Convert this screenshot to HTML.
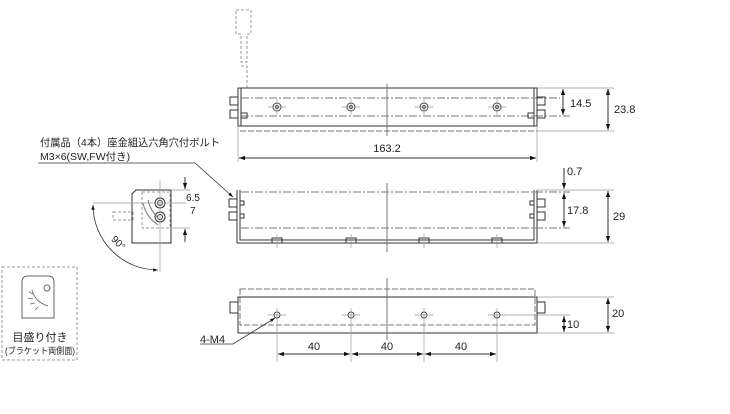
<!DOCTYPE html>
<html><head><meta charset="utf-8"><style>
body{margin:0;background:#fff}
svg{display:block}
text{font-family:"Liberation Sans","Noto Sans CJK JP",sans-serif;fill:#222}
</style></head><body>
<svg width="730" height="414" viewBox="0 0 730 414">
<defs>
<marker id="a" viewBox="0 0 10 10" refX="10" refY="5" markerWidth="8" markerHeight="6" orient="auto-start-reverse"><path d="M0,1.5L10,5L0,8.5z" fill="#111"/></marker>
</defs>
<g fill="none" stroke="#333" stroke-width="1">
<g stroke="#999" stroke-dasharray="3,2">
<path d="M236,10h15v24h-4v28h-6v-28h-5z"/>
<path d="M241,66h6v22"/>
</g>
<rect x="238" y="88" width="299" height="38"/>
<line x1="241" y1="88" x2="241" y2="126"/><line x1="534" y1="88" x2="534" y2="126"/>
<g stroke="#777" stroke-dasharray="8,2,2,2"><line x1="241" y1="98" x2="560" y2="98"/><line x1="241" y1="116" x2="570" y2="116"/></g>
<line x1="240" y1="131" x2="537" y2="131" stroke="#777" stroke-dasharray="6,2"/>
<line x1="387" y1="84" x2="387" y2="136" stroke="#777"/>
<g stroke="#444"><circle cx="277" cy="107" r="4"/><circle cx="351" cy="107" r="4"/><circle cx="424" cy="107" r="4"/><circle cx="497" cy="107" r="4"/>
<circle cx="277" cy="107" r="1.5"/><circle cx="351" cy="107" r="1.5"/><circle cx="424" cy="107" r="1.5"/><circle cx="497" cy="107" r="1.5"/></g>
<g stroke="#999" stroke-width=".7"><path d="M268,107h18M277,99v16M342,107h18M351,99v16M415,107h18M424,99v16M488,107h18M497,99v16"/></g>
<rect x="230" y="97" width="8" height="8"/><rect x="230" y="110" width="8" height="8"/>
<rect x="537" y="97" width="8" height="8"/><rect x="537" y="110" width="8" height="8"/>
<rect x="241" y="113" width="6" height="5"/><rect x="528" y="113" width="6" height="5"/>
<g stroke="#999" stroke-width=".7"><line x1="537" y1="88" x2="614" y2="88"/><line x1="537" y1="131" x2="614" y2="131"/><line x1="238" y1="126" x2="238" y2="162"/><line x1="537" y1="126" x2="537" y2="162"/></g>
<line x1="563" y1="89" x2="563" y2="115" marker-start="url(#a)" marker-end="url(#a)"/>
<line x1="608" y1="89" x2="608" y2="130" marker-start="url(#a)" marker-end="url(#a)"/>
<line x1="239" y1="158" x2="536" y2="158" marker-start="url(#a)" marker-end="url(#a)"/>
<path d="M237,190V243H537V190M240,190V240H534V190"/>
<g stroke="#777" stroke-dasharray="8,2,2,2"><line x1="241" y1="192" x2="570" y2="192"/><line x1="241" y1="228" x2="570" y2="228"/></g>
<line x1="387" y1="183" x2="387" y2="252" stroke="#777"/>
<rect x="229" y="199" width="8" height="8"/><rect x="229" y="212" width="8" height="8"/>
<rect x="240" y="201" width="4" height="4"/><rect x="240" y="214" width="4" height="4"/>
<rect x="537" y="199" width="8" height="8"/><rect x="537" y="212" width="8" height="8"/>
<rect x="530" y="201" width="4" height="4"/><rect x="530" y="214" width="4" height="4"/>
<rect x="272" y="238" width="10" height="5"/><rect x="346" y="238" width="10" height="5"/><rect x="419" y="238" width="10" height="5"/><rect x="492" y="238" width="10" height="5"/>
<g stroke="#999" stroke-width=".7"><path d="M277,234v14M351,234v14M424,234v14M497,234v14"/><line x1="537" y1="190" x2="614" y2="190"/><line x1="537" y1="243" x2="614" y2="243"/></g>
<line x1="564" y1="168" x2="564" y2="189" marker-end="url(#a)"/>
<line x1="564" y1="193" x2="564" y2="227" marker-start="url(#a)" marker-end="url(#a)"/>
<line x1="608" y1="191" x2="608" y2="242" marker-start="url(#a)" marker-end="url(#a)"/>
<rect x="240" y="289" width="295" height="36" stroke="#777" stroke-dasharray="6,2"/>
<rect x="238" y="297" width="299" height="36"/>
<line x1="387" y1="278" x2="387" y2="340" stroke="#777"/>
<rect x="230" y="302" width="8" height="11"/><rect x="537" y="302" width="8" height="11"/>
<g stroke="#444"><circle cx="277" cy="315" r="3"/><circle cx="351" cy="315" r="3"/><circle cx="424" cy="315" r="3"/><circle cx="497" cy="315" r="3"/></g>
<g stroke="#999" stroke-width=".7"><path d="M268,315h18M277,308v54M342,315h18M351,308v54M415,315h18M424,308v54M488,315h18M497,308v54"/>
<line x1="500" y1="315" x2="570" y2="315"/><line x1="537" y1="297" x2="614" y2="297"/><line x1="537" y1="333" x2="614" y2="333"/></g>
<line x1="564" y1="316" x2="564" y2="332" marker-start="url(#a)" marker-end="url(#a)"/>
<line x1="608" y1="298" x2="608" y2="332" marker-start="url(#a)" marker-end="url(#a)"/>
<line x1="278" y1="354" x2="350" y2="354" marker-start="url(#a)" marker-end="url(#a)"/>
<line x1="352" y1="354" x2="423" y2="354" marker-start="url(#a)" marker-end="url(#a)"/>
<line x1="425" y1="354" x2="496" y2="354" marker-start="url(#a)" marker-end="url(#a)"/>
<path d="M200,344H233L275,318" stroke-width=".8" marker-end="url(#a)"/>
<path d="M38,163H195L233,197" stroke-width=".8" marker-end="url(#a)"/>
<path d="M136,190H171V243H132V194z"/>
<rect x="142" y="192" width="28" height="36" stroke="#999" stroke-dasharray="3,2"/>
<rect x="113" y="212" width="20" height="8" stroke="#999" stroke-dasharray="3,2"/>
<circle cx="160" cy="203" r="5"/><circle cx="160" cy="203" r="2.5"/>
<circle cx="160" cy="217" r="5"/><circle cx="160" cy="217" r="2.5"/>
<path d="M148,200q2,10,10,18" stroke="#777"/><path d="M143,203q3,14,15,22" stroke="#777"/>
<g stroke="#999" stroke-width=".7"><line x1="93" y1="203" x2="186" y2="203"/><line x1="160" y1="180" x2="160" y2="272"/><line x1="171" y1="190" x2="190" y2="190"/><line x1="171" y1="228" x2="190" y2="228"/></g>
<line x1="185" y1="177" x2="185" y2="189" marker-end="url(#a)"/>
<line x1="185" y1="242" x2="185" y2="229" marker-end="url(#a)"/>
<path d="M93,205A65,65 0 0 0 158,270" stroke-width=".8" marker-start="url(#a)" marker-end="url(#a)"/>
<rect x="2" y="267" width="75" height="93" stroke="#999" stroke-dasharray="3,2"/>
<path d="M22,282q0,-6,6,-6h20q6,0,6,6v36h-32z" stroke="#666"/>
<circle cx="47" cy="288" r="3" stroke="#666"/>
<path d="M32,290q3,12,16,16M29,292l4,2M28,298l5,1M30,304l5,-1M35,310l3,-3" stroke="#666" stroke-width=".8"/>
</g>
<g font-size="11">
<text x="570" y="107">14.5</text><text x="614" y="113">23.8</text>
<text x="387" y="152" text-anchor="middle">163.2</text>
<text x="567" y="175">0.7</text><text x="567" y="214">17.8</text><text x="613" y="220">29</text>
<text x="567" y="328">10</text><text x="612" y="317">20</text>
<text x="314" y="350" text-anchor="middle">40</text><text x="387" y="350" text-anchor="middle">40</text><text x="461" y="350" text-anchor="middle">40</text>
<text x="200" y="343">4-M4</text>
<text x="186" y="201" font-size="10">6.5</text><text x="190" y="214" font-size="10">7</text>
<text x="40" y="146" font-size="10.5" textLength="180" lengthAdjust="spacingAndGlyphs">付属品（4本）座金組込六角穴付ボルト</text>
<text x="40" y="160" font-size="10.5">M3×6(SW,FW付き)</text>
<text x="108" y="242" font-size="10" transform="rotate(45 112 244)">90°</text>
<text x="40" y="341" font-size="11" text-anchor="middle">目盛り付き</text>
<text x="40" y="354" font-size="9" text-anchor="middle" textLength="70" lengthAdjust="spacingAndGlyphs">(ブラケット両側面)</text>
</g>
</svg>
</body></html>
